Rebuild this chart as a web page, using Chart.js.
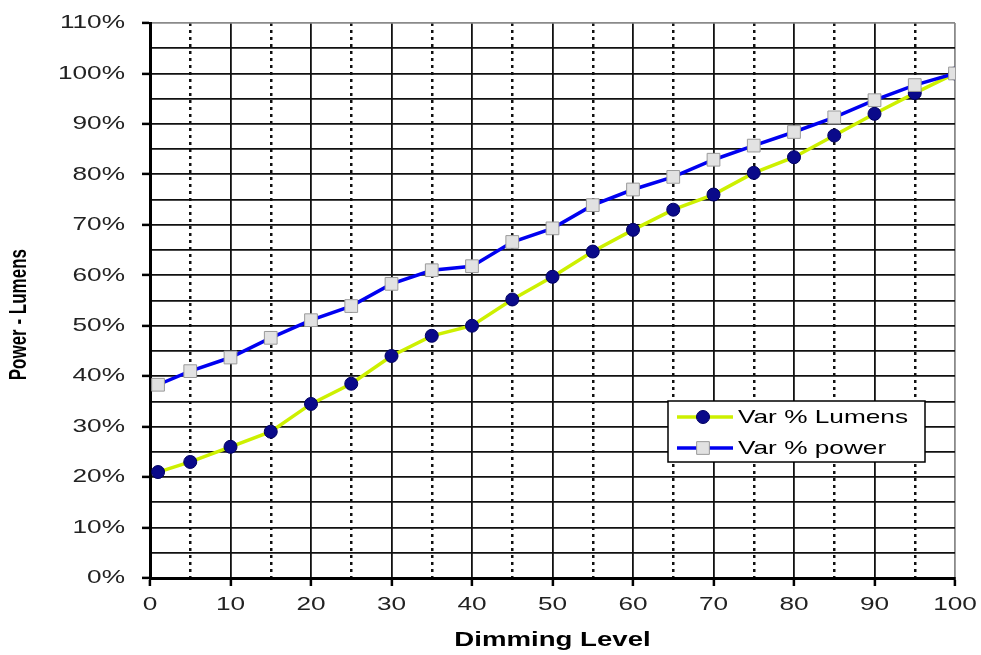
<!DOCTYPE html>
<html>
<head>
<meta charset="utf-8">
<script src="https://cdn.jsdelivr.net/npm/chart.js@4.4.1/dist/chart.umd.min.js"></script>
<style>
  html, body { margin: 0; padding: 0; background: #ffffff; }
  #wrap { width: 981px; height: 655px; position: relative; }
</style>
</head>
<body>
<div id="wrap"><canvas id="chart" width="981" height="655"></canvas></div>
<script>
// Dimming level (%) at which each measurement was taken
const dimmingLevels = [1, 5, 10, 15, 20, 25, 30, 35, 40, 45, 50, 55, 60, 65, 70, 75, 80, 85, 90, 95, 100];
// Relative light output (%)
const lumensPct = [21, 23, 26, 29, 34.5, 38.5, 44, 48, 50, 55.2, 59.7, 64.7, 69, 73, 76, 80.3, 83.4, 87.7, 92, 96.1, 100];
// Relative power draw (%)
const powerPct = [38.3, 41, 43.7, 47.6, 51.1, 53.9, 58.3, 61, 61.8, 66.6, 69.3, 73.9, 77, 79.5, 82.9, 85.7, 88.4, 91.3, 94.7, 97.7, 100];
// Axis tick labels
const xTickLabels = ['0', '10', '20', '30', '40', '50', '60', '70', '80', '90', '100'];
const yTickLabels = ['0%', '10%', '20%', '30%', '40%', '50%', '60%', '70%', '80%', '90%', '100%', '110%'];
const seriesNames = ['Var % Lumens', 'Var % power'];

const FONT = '"Liberation Sans", Arial, sans-serif';
const WIDE = 1.38; // horizontal aspect used for all text

const canvas = document.getElementById('chart');
const ctx = canvas.getContext('2d');

// Text is drawn wider on screen: upright text along its run, rotated text across it.
(function widenText(c, s) {
  const fill = c.fillText.bind(c);
  const measure = c.measureText.bind(c);
  const upright = () => {
    const m = c.getTransform();
    return Math.abs(m.b) < 1e-6 && Math.abs(m.c) < 1e-6;
  };
  c.fillText = function (text, x, y, maxWidth) {
    c.save();
    c.translate(x, y);
    if (upright()) c.scale(s, 1); else c.scale(1, s);
    fill(text, 0, 0);
    c.restore();
  };
  c.measureText = function (text) {
    const r = measure(text);
    if (!upright()) return r;
    return {
      width: r.width * s,
      actualBoundingBoxAscent: r.actualBoundingBoxAscent,
      actualBoundingBoxDescent: r.actualBoundingBoxDescent,
      actualBoundingBoxLeft: r.actualBoundingBoxLeft * s,
      actualBoundingBoxRight: r.actualBoundingBoxRight * s
    };
  };
})(ctx, WIDE);

const lumensPoints = dimmingLevels.map((x, i) => ({ x, y: lumensPct[i] }));
const powerPoints = dimmingLevels.map((x, i) => ({ x, y: powerPct[i] }));

// Boxed legend inside the plot area
const boxLegend = {
  id: 'boxLegend',
  afterDatasetsDraw(chart) {
    const c = chart.ctx;
    const box = { x: 668, y: 401, w: 257, h: 61 };
    c.save();
    c.fillStyle = '#ffffff';
    c.fillRect(box.x, box.y, box.w, box.h);
    c.strokeStyle = '#000000';
    c.lineWidth = 1.5;
    c.strokeRect(box.x, box.y, box.w, box.h);
    const rows = [box.y + 16, box.y + 47];
    chart.data.datasets.forEach((ds, i) => {
      const y = rows[i];
      const mx = box.x + 35;
      c.strokeStyle = ds.borderColor;
      c.lineWidth = ds.borderWidth;
      c.beginPath();
      c.moveTo(box.x + 9, y);
      c.lineTo(box.x + 65, y);
      c.stroke();
      c.fillStyle = ds.pointBackgroundColor;
      c.strokeStyle = ds.pointBorderColor;
      c.lineWidth = ds.pointBorderWidth;
      c.beginPath();
      if (ds.pointStyle === 'rect') {
        const h = ds.pointRadius * Math.SQRT1_2;
        c.rect(mx - h, y - h, 2 * h, 2 * h);
      } else {
        c.arc(mx, y, ds.pointRadius, 0, Math.PI * 2);
      }
      c.fill();
      c.stroke();
      c.fillStyle = '#000000';
      c.font = '19px ' + FONT;
      c.textAlign = 'left';
      c.textBaseline = 'middle';
      c.fillText(ds.label, box.x + 70, y + 1);
    });
    c.restore();
  }
};

new Chart(canvas, {
  type: 'line',
  data: {
    datasets: [
      {
        label: seriesNames[0],
        data: lumensPoints,
        borderColor: '#cdf000',
        borderWidth: 3.5,
        tension: 0,
        pointStyle: 'circle',
        pointRadius: 6.5,
        pointBackgroundColor: '#0a0a8a',
        pointBorderColor: '#000060',
        pointBorderWidth: 1,
        order: 1
      },
      {
        label: seriesNames[1],
        data: powerPoints,
        borderColor: '#0000f0',
        borderWidth: 3.5,
        tension: 0,
        pointStyle: 'rect',
        pointRadius: 9,
        pointBackgroundColor: '#e2e2e2',
        pointBorderColor: '#9a9a9a',
        pointBorderWidth: 1,
        order: 0
      }
    ]
  },
  options: {
    responsive: false,
    animation: false,
    events: [],
    layout: { padding: { top: 23, right: 26, left: 0, bottom: 0 } },
    plugins: {
      legend: { display: false },
      tooltip: { enabled: false },
      title: { display: false }
    },
    scales: {
      x: {
        type: 'linear',
        min: 0,
        max: 100,
        afterFit(scale) {
          scale.height = 77;
          scale.paddingLeft = 0;
          scale.paddingRight = 0;
        },
        afterBuildTicks(scale) {
          scale.ticks = [];
          for (let v = 0; v <= 100; v += 5) scale.ticks.push({ value: v });
        },
        ticks: {
          autoSkip: false,
          maxRotation: 0,
          minRotation: 0,
          padding: 7,
          color: '#222222',
          font: { family: FONT, size: 19 },
          callback: (v) => (v % 10 === 0 ? xTickLabels[v / 10] : '')
        },
        grid: {
          color: (c) => (c.tick && c.tick.value === 100 ? '#8a8a8a' : '#111111'),
          lineWidth: (c) => (c.tick && c.tick.value % 10 !== 0 ? 2.5 : 1.8),
          tickLength: 8,
          tickWidth: 2.5,
          tickColor: (c) => (c.tick && c.tick.value % 10 === 0 ? '#000000' : 'rgba(0,0,0,0)')
        },
        border: {
          display: true,
          color: '#000000',
          width: 3,
          dash: (c) => (c.tick && c.tick.value % 10 !== 0 ? [3, 4] : [])
        },
        title: {
          display: true,
          text: 'Dimming Level',
          color: '#000000',
          font: { family: FONT, size: 20, weight: 'bold' },
          padding: { top: 0, bottom: 3 }
        }
      },
      y: {
        type: 'linear',
        min: 0,
        max: 110,
        afterFit(scale) {
          scale.width = 150;
          scale.paddingTop = 0;
          scale.paddingBottom = 0;
        },
        afterBuildTicks(scale) {
          scale.ticks = [];
          for (let v = 0; v <= 110; v += 5) scale.ticks.push({ value: v });
        },
        ticks: {
          autoSkip: false,
          padding: 17,
          color: '#222222',
          font: { family: FONT, size: 19 },
          callback: (v) => (v % 10 === 0 ? yTickLabels[v / 10] : '')
        },
        grid: {
          color: (c) => (c.tick && c.tick.value === 110 ? '#8a8a8a' : '#111111'),
          lineWidth: 1.8,
          tickLength: 8,
          tickWidth: 2.5,
          tickColor: (c) => (c.tick && c.tick.value % 10 === 0 ? '#000000' : 'rgba(0,0,0,0)')
        },
        border: { display: true, color: '#000000', width: 3 },
        title: {
          display: true,
          text: 'Power - Lumens      ',
          color: '#000000',
          font: { family: FONT, size: 17, weight: 'bold' },
          padding: { top: 9, bottom: 0 }
        }
      }
    }
  },
  plugins: [boxLegend]
});
</script>
</body>
</html>
